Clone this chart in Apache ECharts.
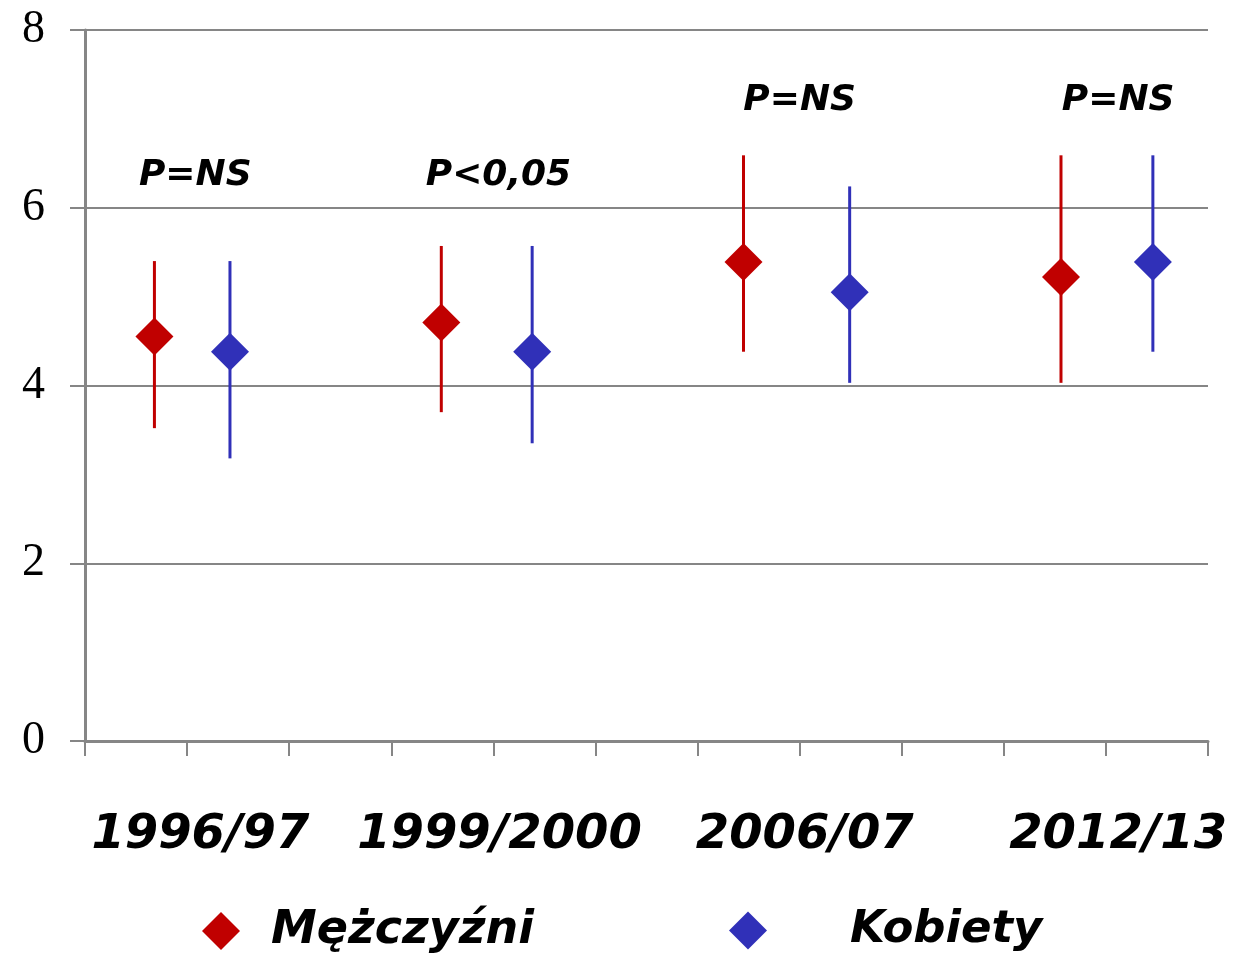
<!DOCTYPE html>
<html>
<head>
<meta charset="utf-8">
<script src="https://cdn.jsdelivr.net/npm/echarts@6/dist/echarts.min.js"></script>
<style>
  html, body { margin: 0; padding: 0; background: #fff; }
  #chart { width: 1237px; height: 953px; }
</style>
</head>
<body>
<div id="chart"></div>
<script>
// survey rounds, label anchors on the x value axis (0..11)
const categories = ['1996/97', '1999/2000', '2006/07', '2012/13'];
const categoryX = [1.13, 4.06, 7.05, 10.12];

// men (red)
const menX = [0.68, 3.49, 6.45, 9.56];
const menMean = [4.55, 4.71, 5.39, 5.22];
const menLow = [3.52, 3.70, 4.38, 4.03];
const menHigh = [5.40, 5.57, 6.59, 6.59];

// women (blue)
const womenX = [1.42, 4.38, 7.49, 10.46];
const womenMean = [4.38, 4.38, 5.05, 5.39];
const womenLow = [3.18, 3.35, 4.03, 4.38];
const womenHigh = [5.40, 5.57, 6.24, 6.59];

// significance labels
const pLabels = ['P=NS', 'P<0,05', 'P=NS', 'P=NS'];
const pX = [1.08, 4.05, 7.0, 10.12];
const pY = [6.36, 6.36, 7.21, 7.21];

const RED = '#C00000';
const BLUE = '#3030B8';
const GRAY = '#868686';
const FONT = 'DejaVu Sans';

const chart = echarts.init(document.getElementById('chart'));

function errorBar(color) {
    return function (params, api) {
        const x = api.value(0);
        const top = api.coord([x, api.value(2)]);
        const bottom = api.coord([x, api.value(1)]);
        return {
            type: 'line',
            shape: { x1: top[0], y1: top[1], x2: bottom[0], y2: bottom[1] },
            style: { stroke: color, lineWidth: 3 }
        };
    };
}

const textStyle = { fontFamily: FONT, fontWeight: 'bold', fontStyle: 'italic', color: '#000' };

const option = {
    animation: false,
    grid: { left: 85, right: 29, top: 30, bottom: 212 },
    xAxis: {
        type: 'value',
        min: 0,
        max: 11,
        interval: 1,
        axisLine: { show: true, lineStyle: { color: GRAY, width: 3 } },
        axisTick: { show: true, length: 15, lineStyle: { color: GRAY, width: 2 } },
        axisLabel: { show: false },
        splitLine: { show: false }
    },
    yAxis: {
        type: 'value',
        min: 0,
        max: 8,
        interval: 2,
        axisLine: { show: true, lineStyle: { color: GRAY, width: 3 } },
        axisTick: { show: true, length: 15, lineStyle: { color: GRAY, width: 2 } },
        axisLabel: { color: '#000', fontFamily: 'Liberation Serif', fontSize: 46, margin: 40, padding: [4, 0, 0, 0] },
        splitLine: { show: true, lineStyle: { color: GRAY, width: 2 } }
    },
    legend: [
        {
            data: [{ name: 'Mężczyźni', icon: 'diamond' }],
            left: 197, top: 903,
            itemWidth: 38, itemHeight: 38,
            textStyle: Object.assign({ fontSize: 46, padding: [0, 0, 0, 26] }, textStyle)
        },
        {
            data: [{ name: 'Kobiety', icon: 'diamond' }],
            left: 724, top: 903,
            itemWidth: 38, itemHeight: 38,
            textStyle: Object.assign({ fontSize: 45, padding: [0, 0, 0, 78] }, textStyle)
        }
    ],
    series: [
        {
            type: 'custom',
            name: 'menErr',
            renderItem: errorBar(RED),
            data: menX.map((x, i) => [x, menLow[i], menHigh[i]]),
            z: 2
        },
        {
            type: 'custom',
            name: 'womenErr',
            renderItem: errorBar(BLUE),
            data: womenX.map((x, i) => [x, womenLow[i], womenHigh[i]]),
            z: 2
        },
        {
            type: 'scatter',
            name: 'Mężczyźni',
            symbol: 'diamond',
            symbolSize: 38,
            itemStyle: { color: RED, opacity: 1 },
            data: menX.map((x, i) => [x, menMean[i]]),
            z: 3
        },
        {
            type: 'scatter',
            name: 'Kobiety',
            symbol: 'diamond',
            symbolSize: 38,
            itemStyle: { color: BLUE, opacity: 1 },
            data: womenX.map((x, i) => [x, womenMean[i]]),
            z: 3
        },
        {
            type: 'scatter',
            name: 'pLabels',
            symbolSize: 1,
            silent: true,
            itemStyle: { color: 'transparent', opacity: 1 },
            data: pX.map((x, i) => ({ value: [x, pY[i]], label: { formatter: pLabels[i] } })),
            label: Object.assign({ show: true, position: 'inside', fontSize: 36, opacity: 1 }, textStyle)
        },
        {
            type: 'scatter',
            name: 'categories',
            symbolSize: 1,
            silent: true,
            clip: false,
            itemStyle: { color: 'transparent', opacity: 1 },
            data: categoryX.map((x, i) => ({ value: [x, -1.06], label: { formatter: categories[i] } })),
            label: Object.assign({ show: true, position: 'inside', fontSize: 48, opacity: 1 }, textStyle)
        }
    ]
};

chart.setOption(option);
</script>
</body>
</html>
